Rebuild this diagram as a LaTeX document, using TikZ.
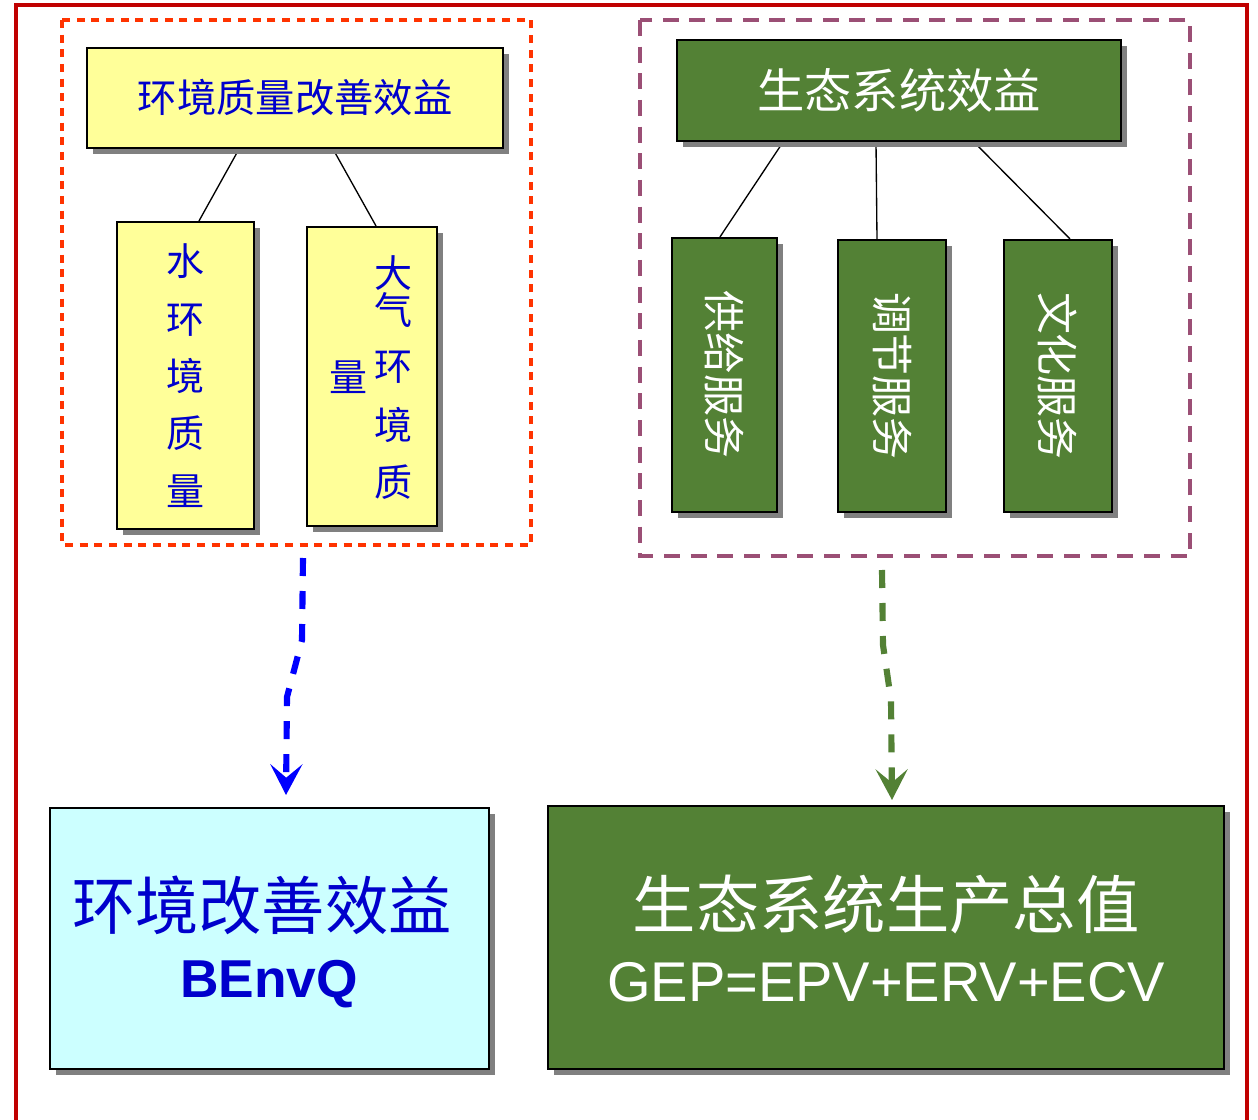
\documentclass[tikz,border=0pt]{standalone}
\usepackage{fontspec}
\newfontfamily\cjk{Noto Sans CJK SC}
\setsansfont{Liberation Sans}
\usetikzlibrary{arrows.meta,shadows}
\definecolor{yboxc}{HTML}{FFFF99}
\definecolor{gboxc}{HTML}{538135}
\definecolor{cboxc}{HTML}{CCFFFF}
\definecolor{btext}{HTML}{0000CC}
\definecolor{outerred}{HTML}{C00000}
\definecolor{odash}{HTML}{FF3300}
\definecolor{pdash}{HTML}{9B4F75}
\definecolor{shadowgray}{HTML}{808080}
\definecolor{arrblue}{HTML}{0000FF}
\pgfdeclarelayer{bg}
\pgfsetlayers{bg,main}
\tikzset{
  box/.style={draw=black, line width=1.6pt, inner sep=0pt,
    drop shadow={shadow xshift=4.5pt, shadow yshift=-4.5pt, fill=shadowgray, opacity=1}},
  ybox/.style={box, fill=yboxc, text=btext},
  gbox/.style={box, fill=gboxc, text=white},
  cbox/.style={box, fill=cboxc, text=btext},
  conn/.style={draw=black, line width=1pt},
  vchar/.style={inner sep=0pt, text=btext, font=\cjk\fontsize{28.5}{30}\selectfont},
  flowarrow/.style={line width=4.6pt, dash pattern=on 13.5pt off 11.25pt,
    -{Stealth[length=23pt, width=24pt, inset=10pt]}},
  txt/.style={inner sep=0pt},
}
\begin{document}
\begin{tikzpicture}[x=0.75pt, y=-0.75pt]
\useasboundingbox (0,0) rectangle (1258,1120);
% outer red frame
\draw[outerred, line width=2.5pt] (16,1120) -- (16,5) -- (1247,5) -- (1247,1120);
% dashed groups
\draw[odash, line width=3pt, dash pattern=on 6pt off 5pt] (62,20) rectangle (531,545);
\draw[pdash, line width=3.5pt, dash pattern=on 12pt off 8pt] (640,20) rectangle (1190,556);

% left group
\node[ybox, minimum width=312pt, minimum height=75pt,
      font=\cjk\fontsize{29.5}{32}\selectfont] (yt) at (295,98) {环境质量改善效益};
\node[ybox, minimum width=102.75pt, minimum height=230.25pt, align=center,
      font=\cjk\fontsize{28.5}{43}\selectfont] (y1) at (185.5,375.5) {水\\环\\境\\质\\量};
\node[ybox, minimum width=97.5pt, minimum height=224.25pt] (y2) at (372,376.5) {};
\node[vchar] (c1) at (393,273) {大};
\node[vchar] (c2) at (393,310) {气};
\node[vchar] (c3) at (393,367) {环};
\node[vchar] (c4) at (393,425) {境};
\node[vchar] (c5) at (393,482) {质};
\node[vchar] (c6) at (348,377) {量};

% right group
\node[gbox, minimum width=333pt, minimum height=75.75pt,
      font=\cjk\fontsize{35.5}{38}\selectfont] (gt) at (899,90.5) {生态系统效益};
\node[gbox, minimum width=78.75pt, minimum height=205.5pt,
      font=\cjk\fontsize{31.5}{34}\selectfont] (g1) at (724.5,375) {\rotatebox{-90}{供给服务}};
\node[gbox, minimum width=81pt, minimum height=204pt,
      font=\cjk\fontsize{31.5}{34}\selectfont] (g2) at (892,376) {\rotatebox{-90}{调节服务}};
\node[gbox, minimum width=81pt, minimum height=204pt,
      font=\cjk\fontsize{31.5}{34}\selectfont] (g3) at (1058,376) {\rotatebox{-90}{文化服务}};

% bottom boxes
\node[cbox, minimum width=329.25pt, minimum height=195.75pt] (cb) at (269.5,938.5) {};
\node[txt, text=btext, font=\cjk\fontsize{47.5}{50}\selectfont] (cbt1) at (262,905) {环境改善效益};
\node[txt, text=btext, font=\sffamily\bfseries\fontsize{40}{44}\selectfont] (cbt2) at (269,984) {BEnvQ};

\node[gbox, minimum width=507pt, minimum height=197.25pt] (gb) at (886,937.5) {};
\node[txt, text=white, font=\cjk\fontsize{47.5}{50}\selectfont] (gbt1) at (886,905) {生态系统生产总值};
\node[txt, text=white, font=\sffamily\fontsize{42}{46}\selectfont] (gbt2) at (886,982) {GEP=EPV+ERV+ECV};

% connectors behind boxes
\begin{pgfonlayer}{bg}
\draw[conn] (yt.south -| 239,0) -- (y1.north -| 199,0);
\draw[conn] (yt.south -| 333,0) -- (y2.north -| 376,0);
\draw[conn] (gt.south -| 783,0) -- (g1.north -| 720,0);
\draw[conn] (gt.south -| 876,0) -- (g2.north -| 877,0);
\draw[conn] (gt.south -| 974,0) -- (g3.north -| 1070,0);
\end{pgfonlayer}

% flow arrows
\coordinate (a1s) at (303,558);
\coordinate (a1e) at (286,795);
\draw[flowarrow, arrblue] (a1s) -- (302,640) -- (287,697) -- (a1e);
\coordinate (a2s) at (882,570);
\coordinate (a2e) at (892,800);
\draw[flowarrow, gboxc] (a2s) -- (883,645) -- (891,700) -- (a2e);
\end{tikzpicture}
\end{document}
